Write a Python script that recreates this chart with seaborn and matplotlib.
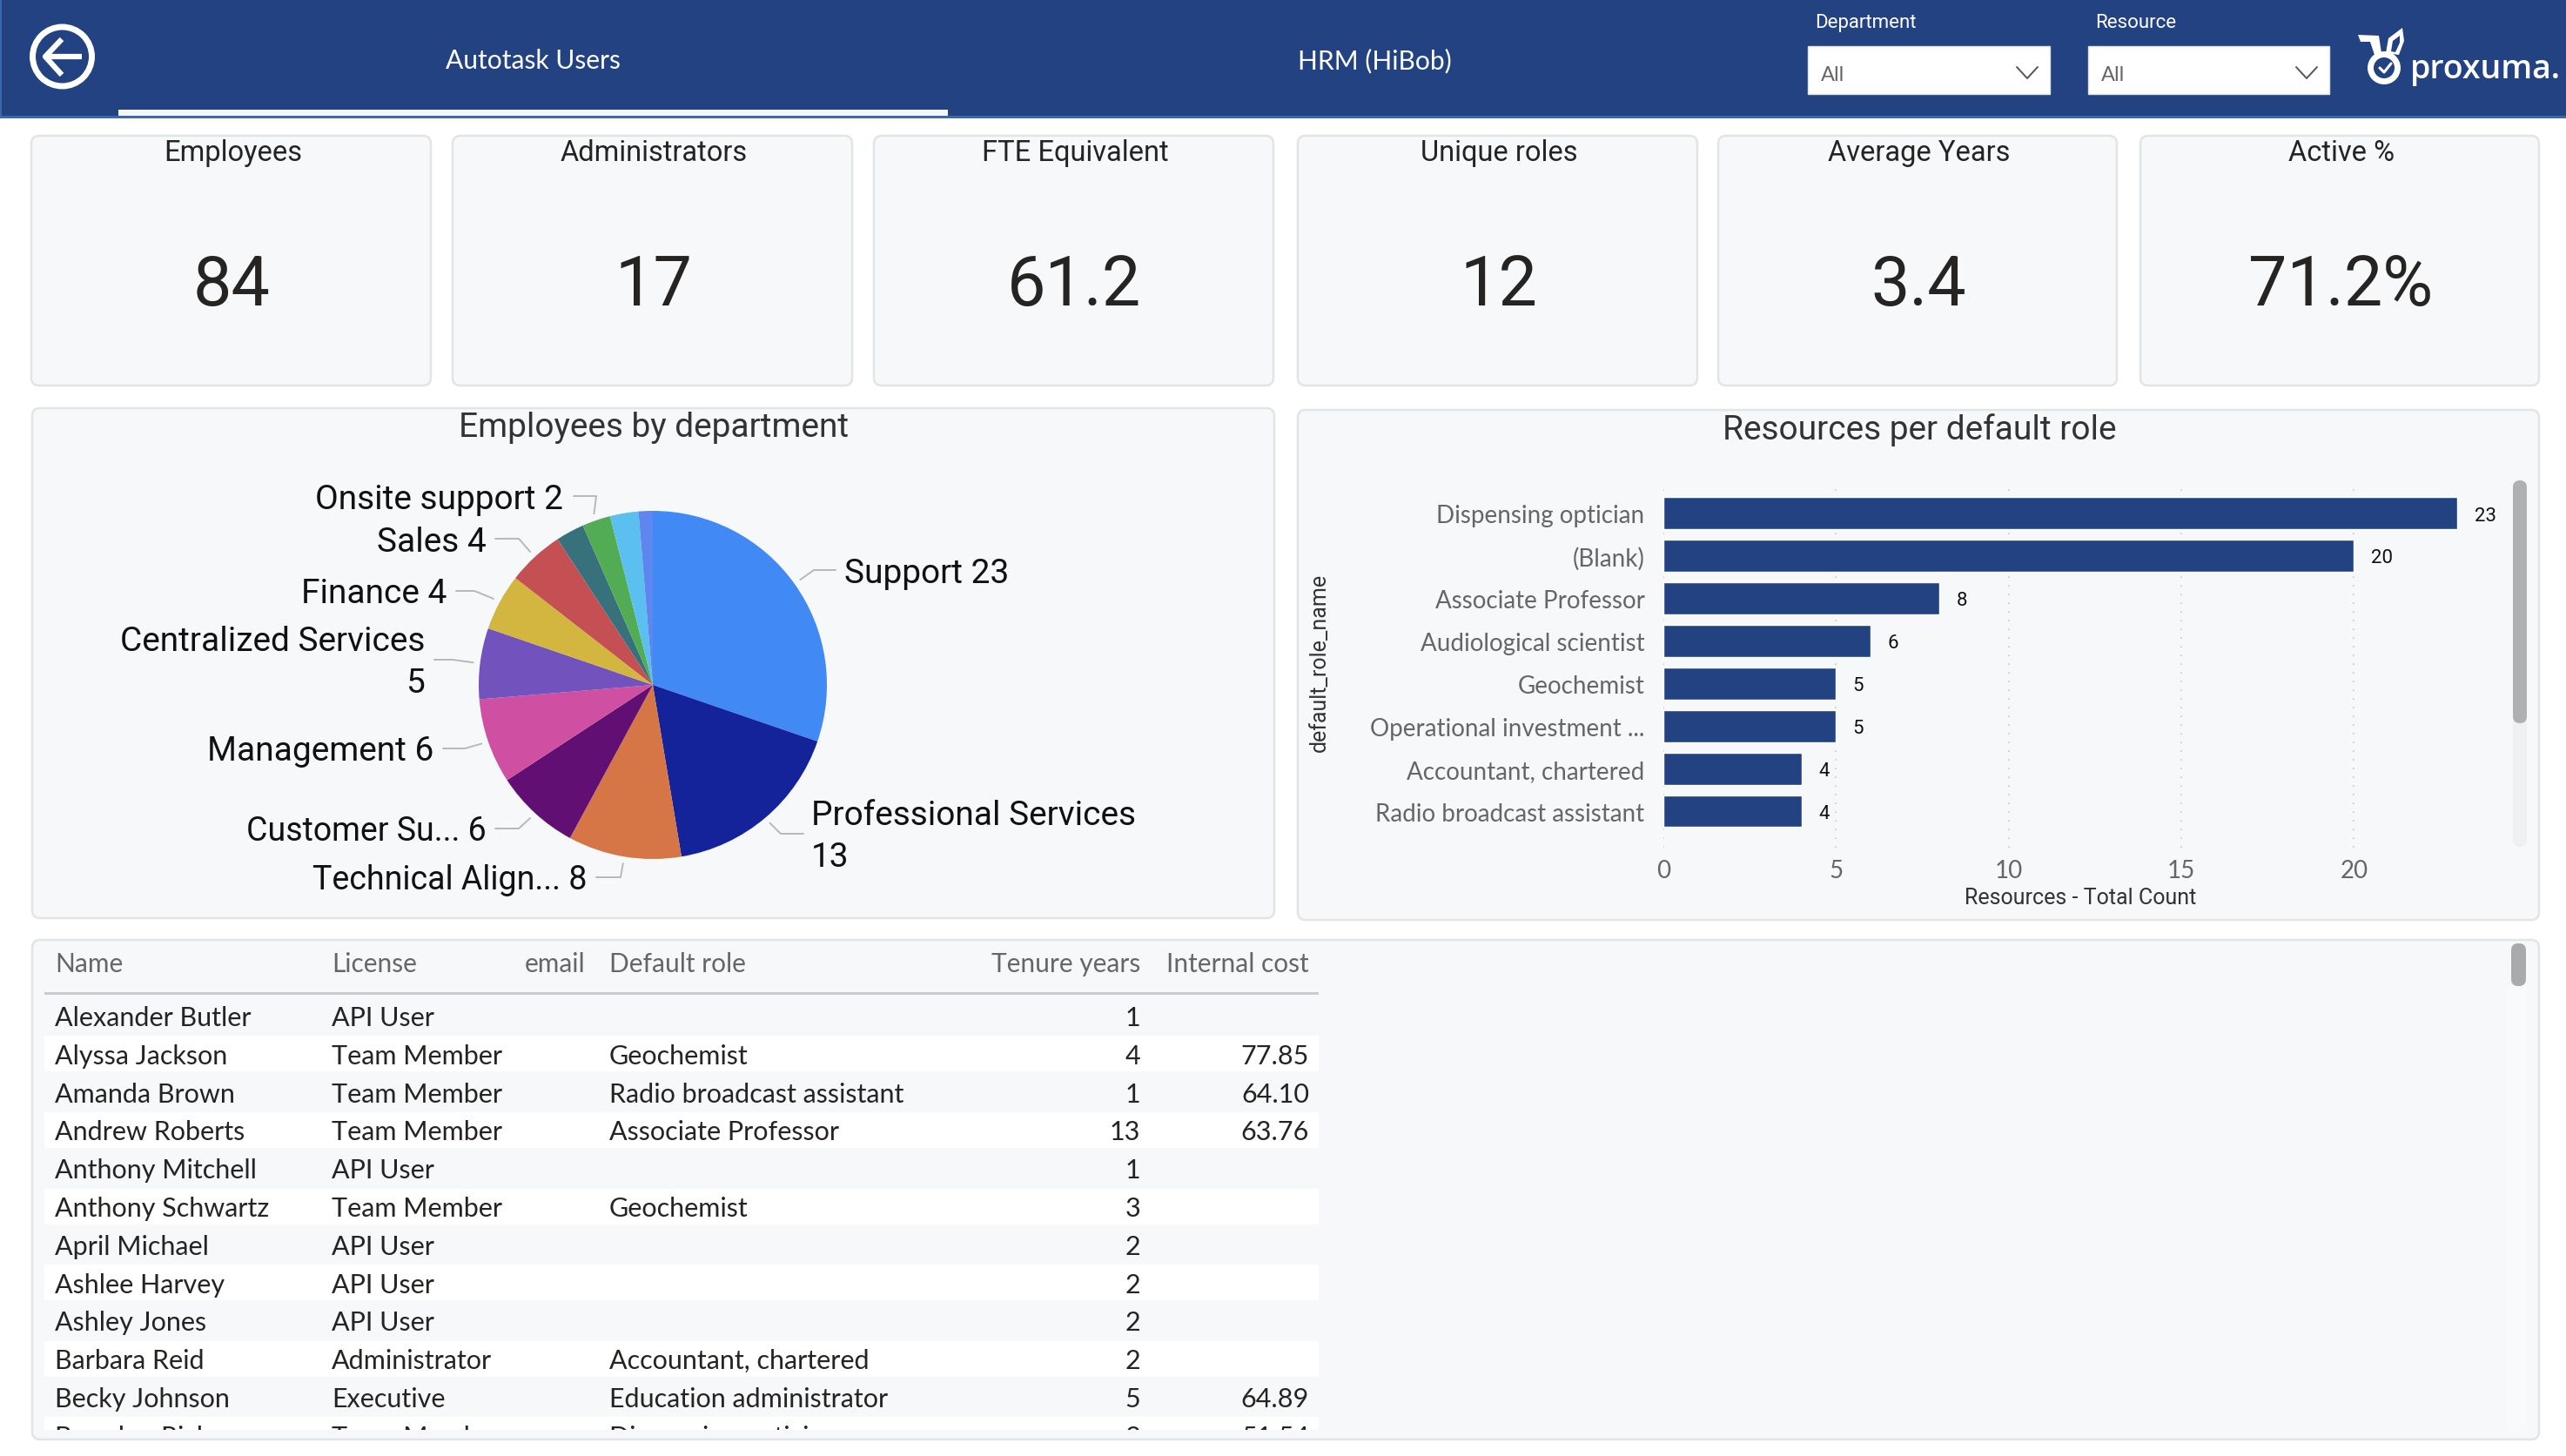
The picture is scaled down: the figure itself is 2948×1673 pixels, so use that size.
import matplotlib
matplotlib.use("Agg")
import matplotlib.pyplot as plt
import numpy as np
import pandas as pd
import seaborn as sns
from matplotlib.patches import Circle, FancyBboxPatch, Polygon, Rectangle

W, H = 2948, 1674
NAVY = "#234282"
PANEL = "#f6f8fa"
EDGE = "#e2e4e6"
DIN = "Roboto"
SEGOE = "Lato"

# kpi cards
kpi_titles = ["Employees", "Administrators", "FTE Equivalent", "Unique roles", "Average Years", "Active %"]
kpi_values = ["84", "17", "61.2", "12", "3.4", "71.2%"]

# pie, clockwise from 12 o'clock
dept_names = ["Support", "Professional Services", "Technical Alignment", "Customer Support", "Management",
              "Centralized Services", "Finance", "Sales", "", "Onsite support", "", ""]
dept_counts = [23, 13, 8, 6, 6, 5, 4, 4, 2, 2, 2, 1]
dept_colors = ["#418af5", "#15239a", "#d67545", "#620f73", "#cf4fa2", "#7252bc",
               "#d3b63f", "#c55053", "#37727c", "#52ac54", "#5bbfef", "#5d86ee"]

# bars
role_names = ["Dispensing optician", "(Blank)", "Associate Professor", "Audiological scientist",
              "Geochemist", "Operational investment ...", "Accountant, chartered", "Radio broadcast assistant"]
role_counts = [23, 20, 8, 6, 5, 5, 4, 4]
count_ticks = [0, 5, 10, 15, 20]

# table
table_names = ["Alexander Butler", "Alyssa Jackson", "Amanda Brown", "Andrew Roberts", "Anthony Mitchell",
               "Anthony Schwartz", "April Michael", "Ashlee Harvey", "Ashley Jones", "Barbara Reid",
               "Becky Johnson", "Brandon Rich"]
table_license = ["API User", "Team Member", "Team Member", "Team Member", "API User", "Team Member",
                 "API User", "API User", "API User", "Administrator", "Executive", "Team Member"]
table_role = ["", "Geochemist", "Radio broadcast assistant", "Associate Professor", "", "Geochemist",
              "", "", "", "Accountant, chartered", "Education administrator", "Dispensing optician"]
table_tenure = [1, 4, 1, 13, 1, 3, 2, 2, 2, 2, 5, 3]
table_cost = ["", "77.85", "64.10", "63.76", "", "", "", "", "", "", "64.89", "51.54"]

sns.set_theme(style="white")
plt.rcParams["font.family"] = [SEGOE, "DejaVu Sans"]


def px_axes(fig, zorder):
    a = fig.add_axes([0, 0, 1, 1], zorder=zorder)
    a.set_xlim(0, W)
    a.set_ylim(H, 0)
    a.axis("off")
    a.patch.set_alpha(0)
    return a


def box_axes(fig, x0, y0, x1, y1, zorder=1):
    return fig.add_axes([x0 / W, 1 - y1 / H, (x1 - x0) / W, (y1 - y0) / H], zorder=zorder)


def card(a, x0, y0, x1, y1):
    a.add_patch(FancyBboxPatch((x0, y0), x1 - x0, y1 - y0, boxstyle="round,pad=0,rounding_size=9",
                               fc=PANEL, ec=EDGE, lw=1.8))


fig = plt.figure(figsize=(W / 100, H / 100), dpi=100, facecolor="white")
bg = px_axes(fig, 0)
top = px_axes(fig, 3)

# header band
bg.add_patch(Rectangle((0, 0), W, 137, fc=NAVY, ec="none"))
bg.add_patch(Rectangle((0, 134), W, 3, fc="#3b69b0", ec="none"))
bg.add_patch(Rectangle((0, 0), 2, 137, fc="#3b69b0", ec="none"))
bg.add_patch(Rectangle((136, 127), 953, 7, fc="#f4f6fa", ec="none"))
top.text(612, 70, "Autotask Users", color="white", fontsize=21.6, ha="center", va="center")
top.text(1579, 70, "HRM (HiBob)", color="white", fontsize=21.6, ha="center", va="center")

# back button
top.add_patch(Circle((71.5, 66), 34, fc="none", ec="white", lw=5))
top.plot([94, 52, 71], [66, 66, 46], color="white", lw=4.5, solid_capstyle="butt")
top.plot([52, 71], [66, 87], color="white", lw=4.5, solid_capstyle="butt")

# slicers
for label, x0, x1 in [("Department", 2077, 2355), ("Resource", 2399, 2676)]:
    top.text(x0 + 8, 26, label, color="white", fontsize=16, fontfamily=DIN, va="center")
    bg.add_patch(Rectangle((x0, 54), x1 - x0, 55, fc="white", ec="#dfe2e8", lw=1))
    top.text(x0 + 15, 86, "All", color="#666666", fontsize=17, va="center")
    cx = x1 - 26
    top.plot([cx - 12, cx, cx + 12], [78, 91, 78], color="#555555", lw=1.4)

# logo
top.add_patch(Circle((2739, 79), 15.5, fc="none", ec="white", lw=5))
top.add_patch(Polygon([[2709, 41], [2733, 42], [2736, 62], [2728, 64], [2723, 49], [2712, 49]], fc="white", ec="none"))
top.add_patch(Polygon([[2741, 62], [2744, 45], [2760, 33], [2762, 48], [2756, 64]], fc="white", ec="none"))
top.add_patch(Polygon([[2747, 60], [2749, 48], [2757, 42], [2757, 50], [2752, 61]], fc=NAVY, ec="none"))
top.plot([2734, 2739, 2747], [79, 84, 74], color="white", lw=2.2)
top.text(2769, 90, "proxuma.", color="white", fontsize=27, fontfamily="Open Sans", fontweight="semibold", va="baseline")

# kpi row
kpi_x = [(36, 495), (520, 979), (1004, 1463), (1491, 1950), (1974, 2432), (2459, 2917)]
for (x0, x1), title, value in zip(kpi_x, kpi_titles, kpi_values):
    card(bg, x0, 157, x1, 444)
    xc = (x0 + x1) / 2
    top.text(xc + 2, 176, title, color="#252423", fontsize=23.5, fontfamily=DIN, ha="center", va="center")
    top.text(xc + 1, 329, value, color="#252423", fontsize=57, fontfamily=DIN, ha="center", va="center")

# panels
card(bg, 37, 470, 1464, 1056)
card(bg, 1491, 472, 2917, 1058)
card(bg, 37, 1081, 2917, 1655)
top.text(751, 491, "Employees by department", color="#333333", fontsize=28, fontfamily=DIN, ha="center", va="center")
top.text(2205, 494, "Resources per default role", color="#333333", fontsize=28, fontfamily=DIN, ha="center", va="center")

# pie
pie_cx, pie_cy, pie_r = 750, 788, 200
ax_pie = box_axes(fig, pie_cx - pie_r, pie_cy - pie_r, pie_cx + pie_r, pie_cy + pie_r)
wedges, _ = ax_pie.pie(dept_counts, colors=dept_colors, startangle=90, counterclock=False, radius=1,
                       wedgeprops={"linewidth": 0})
ax_pie.set_xlim(-1, 1)
ax_pie.set_ylim(-1, 1)
ax_pie.patch.set_alpha(0)

# slice index -> label lines, text anchor, leader elbow and end
pie_labels = [
    (0, ["Support 23"], 970, [659], "left", (935, 656), (960, 656)),
    (1, ["Professional Services", "13"], 932, [938, 986], "left", (897, 959), (923, 959)),
    (2, ["Technical Align... 8"], 674, [1012], "right", (713, 1009), (685, 1009)),
    (3, ["Customer Su... 6"], 559, [955], "right", (596, 953), (569, 953)),
    (4, ["Management 6"], 498, [863], "right", (534, 861), (509, 861)),
    (5, ["Centralized Services", "5"], 488, [737, 786], "right", (520, 759), (499, 759)),
    (6, ["Finance 4"], 513, [682], "right", (545, 680), (524, 680)),
    (7, ["Sales 4"], 559, [623], "right", (596, 620), (569, 620)),
    (9, ["Onsite support 2"], 647, [574], "right", (685, 571), (659, 571)),
]
for idx, lines, tx, tys, ha, elbow, end in pie_labels:
    w = wedges[idx]
    mid = np.radians((w.theta1 + w.theta2) / 2)
    sx = pie_cx + pie_r * 1.04 * np.cos(mid)
    sy = pie_cy - pie_r * 1.04 * np.sin(mid)
    top.plot([sx, elbow[0], end[0]], [sy, elbow[1], end[1]], color="#b8b8b8", lw=1.4)
    for line, ty in zip(lines, tys):
        size = 27 if "..." in line else 28
        top.text(tx, ty, line, color="#111111", fontsize=size, fontfamily=DIN, ha=ha, va="center")

# bars
ax_bar = box_axes(fig, 1911, 557, 2850, 975)
roles = pd.DataFrame({"role": role_names, "count": role_counts})
sns.barplot(data=roles, y="role", x="count", color=NAVY, saturation=1, width=0.755, ax=ax_bar, zorder=2)
ax_bar.set_xlim(0, 23.67)
ax_bar.set_ylim(7.858, -0.685)
ax_bar.patch.set_alpha(0)
for s in ax_bar.spines.values():
    s.set_visible(False)
ax_bar.set_xticks(count_ticks)
ax_bar.grid(axis="x", color="#c8c8c8", linestyle=(0, (1, 5)), lw=1.2, zorder=0)
ax_bar.set_axisbelow(True)
ax_bar.tick_params(axis="x", length=0, pad=9.5, labelsize=20, labelcolor="#666666")
ax_bar.tick_params(axis="y", length=0, pad=15.5, labelsize=20, labelcolor="#666666")
bar_texts = ax_bar.bar_label(ax_bar.containers[0], padding=14, fontsize=16, color="#111111", fontfamily=DIN)
for t in bar_texts:
    t.set_va("center_baseline")
ax_bar.set_xlabel("")
ax_bar.set_ylabel("")
top.text(2390, 1032, "Resources - Total Count", color="#333333", fontsize=18, fontfamily=DIN, ha="center", va="center")
top.text(1516, 761, "default_role_name", color="#333333", fontsize=18, fontfamily=DIN,
         rotation=90, ha="center", va="center")

# bar panel scrollbar
bg.add_patch(FancyBboxPatch((2887, 553), 16, 421, boxstyle="round,pad=0,rounding_size=8", fc="#eef0f2", ec="none"))
top.add_patch(FancyBboxPatch((2887, 553), 16, 279, boxstyle="round,pad=0,rounding_size=8", fc="#aeb0b2", ec="none"))

# table
col_name, col_lic, col_email, col_role, col_ten, col_cost = 63, 381, 672, 700, 1310, 1504
header_y, first_row, row_step = 1108, 1170, 43.8
table_clip = Rectangle((51, 1090), 1464, 554, transform=top.transData)
headers = [("Name", col_name, "left"), ("License", col_lic, "left"), ("email", col_email, "right"),
           ("Default role", col_role, "left"), ("Tenure years", col_ten, "right"), ("Internal cost", col_cost, "right")]
for label, x, ha in headers:
    top.text(x, header_y, label, color="#666666", fontsize=21.5, ha=ha, va="center")
bg.add_patch(Rectangle((51, 1141), 1464, 2.5, fc="#c9cccf", ec="none"))

for i, name in enumerate(table_names):
    y = first_row + i * row_step
    if i % 2 == 1:
        band = Rectangle((51, y - 22.5), 1464, 41, fc="white", ec="none")
        bg.add_patch(band)
        band.set_clip_path(Rectangle((51, 1090), 1464, 554, transform=bg.transData))
    row = [(name, col_name, "left"), (table_license[i], col_lic, "left"), (table_role[i], col_role, "left"),
           (str(table_tenure[i]), col_ten, "right"), (table_cost[i], col_cost, "right")]
    for text, x, ha in row:
        t = top.text(x, y, text, color="#252423", fontsize=22, ha=ha, va="center", clip_on=True)
        t.set_clip_path(table_clip)

# table scrollbar
bg.add_patch(Rectangle((2880, 1134), 23, 511, fc="#f9fafb", ec="none"))
top.add_patch(FancyBboxPatch((2885, 1085), 17, 49, boxstyle="round,pad=0,rounding_size=8", fc="#a8aaab", ec="none"))

fig.savefig("out.png", dpi=100, facecolor="white")
